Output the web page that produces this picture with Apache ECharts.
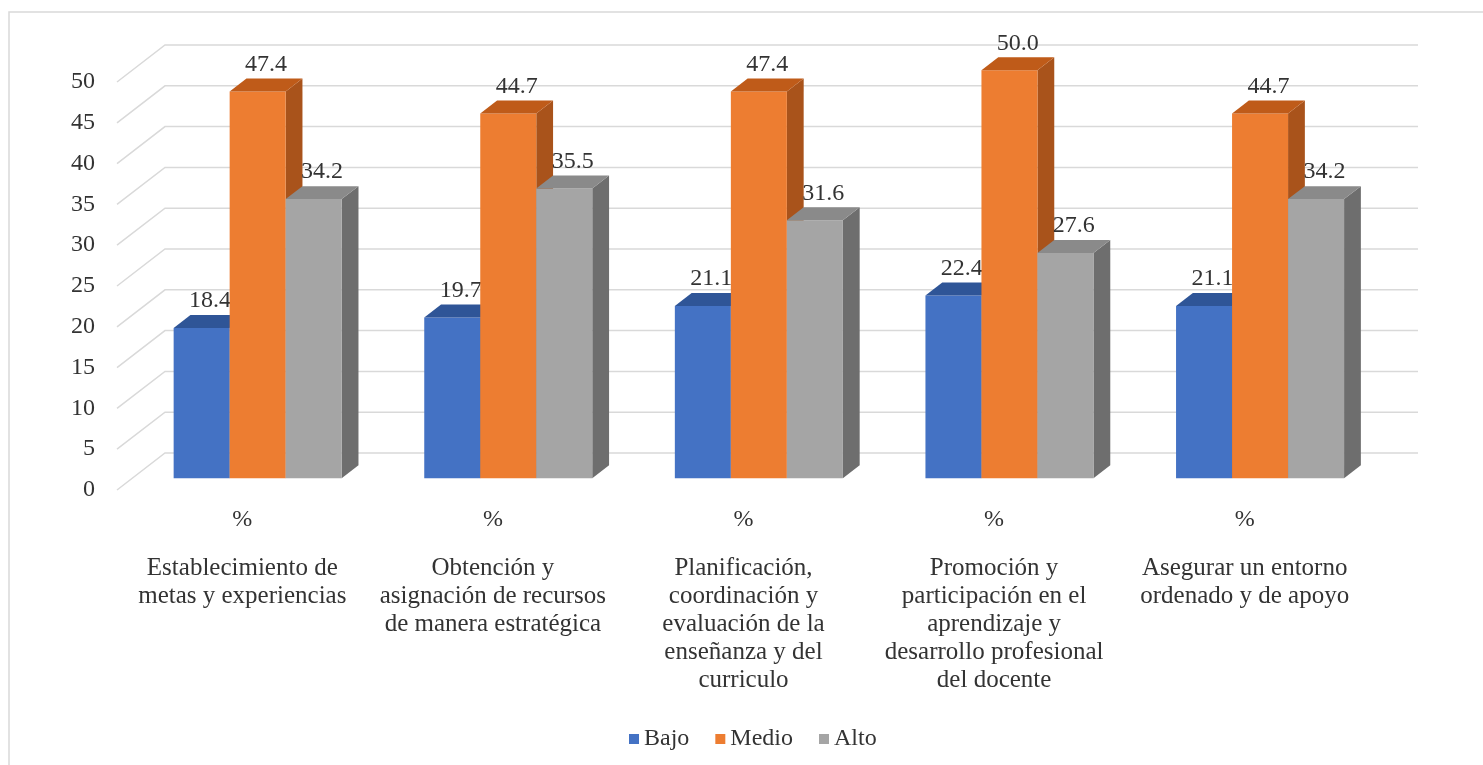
<!DOCTYPE html>
<html>
<head>
<meta charset="utf-8">
<script src="https://cdn.jsdelivr.net/npm/echarts@6/dist/echarts.min.js"></script>
<style>
  html, body { margin: 0; padding: 0; background: #fff; }
  #chart { width: 1483px; height: 765px; }
</style>
</head>
<body>
<div id="chart"></div>
<script>
// data
const categories = [
  'Establecimiento de\nmetas y experiencias',
  'Obtención y\nasignación de recursos\nde manera estratégica',
  'Planificación,\ncoordinación y\nevaluación de la\nenseñanza y del\ncurriculo',
  'Promoción y\nparticipación en el\naprendizaje y\ndesarrollo profesional\ndel docente',
  'Asegurar un entorno\nordenado y de apoyo'
];
const bajo = [18.4, 19.7, 21.1, 22.4, 21.1];
const medio = [47.4, 44.7, 47.4, 50.0, 44.7];
const alto = [34.2, 35.5, 31.6, 27.6, 34.2];
const yTicks = [0, 5, 10, 15, 20, 25, 30, 35, 40, 45, 50];

// fake 3d depth (full floor depth), bars sit between F1 and F2
const DX = 48, DY = -37;
const F1 = 0.32, F2 = 0.67;
const BAR_RATIO = 0.2235;
const FONT = '"Liberation Serif", "Times New Roman", serif';
const TXT = '#333333';

const palette = [
  { front: '#4472C4', top: '#2F5597', side: '#2E4F8C' },
  { front: '#ED7D31', top: '#BF5B19', side: '#A9531B' },
  { front: '#A5A5A5', top: '#8A8A8A', side: '#6E6E6E' }
];

function renderWall(params, api) {
  const p = api.coord([0, api.value(1)]);
  const band = api.size([1, 0])[0];
  const xl = p[0] - band / 2;
  const xr = xl + band * categories.length;
  const y = p[1];
  return {
    type: 'polyline',
    shape: { points: [[xl, y], [xl + DX, y + DY], [xr + DX, y + DY]] },
    style: { stroke: '#d9d9d9', lineWidth: 1.5, fill: null },
    silent: true
  };
}

function makeBarSeries(name, values, slot) {
  const c = palette[slot];
  return {
    name: name,
    type: 'custom',
    itemStyle: { color: c.front },
    data: values.map((v, i) => [i, v]),
    renderItem: (params, api) => {
      const cat = api.value(0), val = api.value(1);
      const base = api.coord([cat, 0]);
      const top = api.coord([cat, val]);
      const band = api.size([1, 0])[0];
      const bw = band * BAR_RATIO;
      const xf = base[0] - 1.5 * bw + slot * bw + DX * F1;
      const yb = base[1] + DY * F1;
      const yt = top[1] + DY * F1;
      const dx = DX * (F2 - F1), dy = DY * (F2 - F1);
      return {
        type: 'group',
        children: [
          {
            type: 'polygon',
            shape: { points: [[xf + bw, yt], [xf + bw + dx, yt + dy], [xf + bw + dx, yb + dy], [xf + bw, yb]] },
            style: { fill: c.side }
          },
          {
            type: 'rect',
            shape: { x: xf, y: yt, width: bw, height: yb - yt },
            style: { fill: c.front }
          },
          {
            type: 'polygon',
            shape: { points: [[xf, yt], [xf + bw, yt], [xf + bw + dx, yt + dy], [xf + dx, yt + dy]] },
            style: { fill: c.top }
          },
          {
            type: 'text',
            style: {
              x: xf + bw / 2 + dx / 2,
              y: yt + dy - 2,
              text: val.toFixed(1),
              align: 'center',
              verticalAlign: 'bottom',
              font: '24px ' + FONT,
              fill: TXT
            }
          }
        ]
      };
    }
  };
}

const chart = echarts.init(document.getElementById('chart'));
const option = {
  animation: false,
  graphic: [{
    type: 'rect',
    shape: { x: 9, y: 12, width: 1490, height: 780 },
    style: { fill: null, stroke: '#d9d9d9', lineWidth: 1.5 },
    silent: true
  }],
  grid: { left: 117, right: 113, top: 82, bottom: 275 },
  legend: {
    data: ['Bajo', 'Medio', 'Alto'],
    left: 624,
    top: 722,
    icon: 'rect',
    itemWidth: 10,
    itemHeight: 10,
    itemGap: 26,
    textStyle: { fontFamily: FONT, fontSize: 24, color: TXT }
  },
  xAxis: {
    type: 'category',
    data: categories,
    axisLine: { show: false },
    axisTick: { show: false },
    axisLabel: {
      interval: 0,
      margin: 16,
      formatter: (v) => '{p|%}\n{s| }\n' + v.split('\n').map(l => '{n|' + l + '}').join('\n'),
      rich: {
        p: { fontFamily: FONT, fontSize: 24, lineHeight: 28, color: TXT },
        s: { fontSize: 10, lineHeight: 20 },
        n: { fontFamily: FONT, fontSize: 25, lineHeight: 28, color: TXT }
      }
    }
  },
  yAxis: {
    type: 'value',
    min: 0,
    max: 50,
    interval: 5,
    axisLine: { show: false },
    axisTick: { show: false },
    splitLine: { show: false },
    axisLabel: { margin: 22, fontFamily: FONT, fontSize: 24, color: TXT }
  },
  series: [
    {
      name: 'wall',
      type: 'custom',
      silent: true,
      data: yTicks.map(v => [0, v]),
      renderItem: renderWall
    },
    makeBarSeries('Bajo', bajo, 0),
    makeBarSeries('Medio', medio, 1),
    makeBarSeries('Alto', alto, 2)
  ]
};
chart.setOption(option);
</script>
</body>
</html>
